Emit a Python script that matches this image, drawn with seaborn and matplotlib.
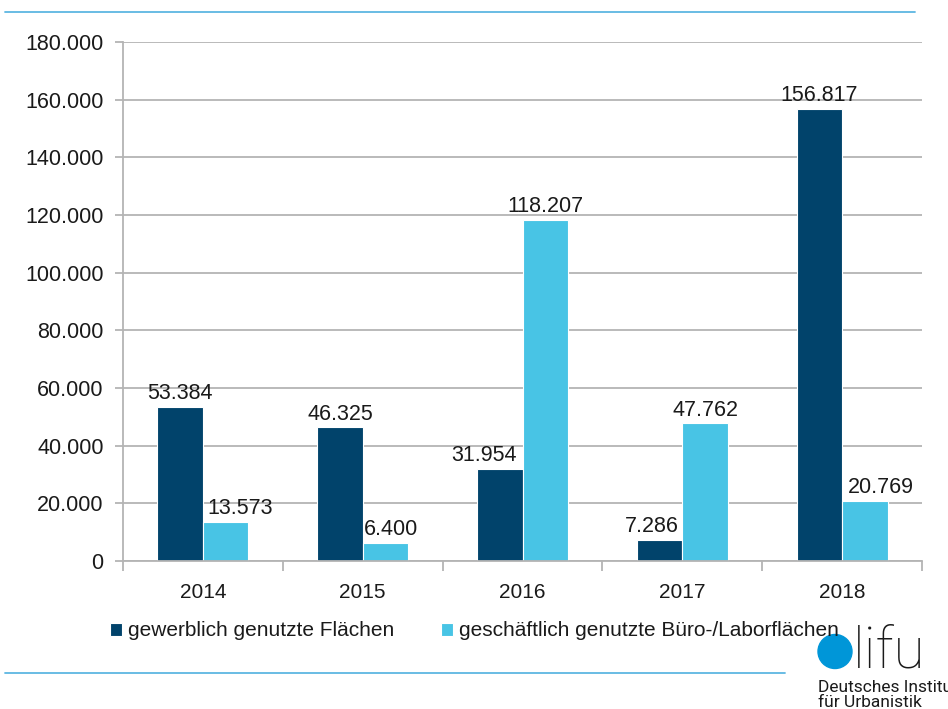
import pandas as pd
import matplotlib.pyplot as plt
import seaborn as sns
from matplotlib.ticker import FuncFormatter, MultipleLocator, FixedLocator
from matplotlib.lines import Line2D
from matplotlib.patches import Ellipse

# data
years = ["2014", "2015", "2016", "2017", "2018"]
gewerblich = [53384, 46325, 31954, 7286, 156817]
geschaeftlich = [13573, 6400, 118207, 47762, 20769]
series = ["gewerblich genutzte Flächen", "geschäftlich genutzte Büro-/Laborflächen"]

df = pd.DataFrame({
    "Jahr": years * 2,
    "Fläche": gewerblich + geschaeftlich,
    "Art": [series[0]] * len(years) + [series[1]] * len(years),
})

sns.set_style("white")
plt.rcParams["font.family"] = ["Liberation Sans", "DejaVu Sans"]

dark = "#01436B"
light = "#48C4E5"
grid_col = "#b4b4b4"
txt = "#1a1a1a"

def de_fmt(v):
    return f"{int(round(v)):,}".replace(",", ".")

fig = plt.figure(figsize=(9.48, 7.09), dpi=100)
ax = fig.add_axes([123 / 948, 1 - 561 / 709, 799 / 948, 519 / 709])

sns.barplot(data=df, x="Jahr", y="Fläche", hue="Art", palette=[dark, light],
            saturation=1, width=0.57, edgecolor="white", linewidth=0.8, ax=ax)

ax.set_xlim(-0.5, len(years) - 0.5)
ax.set_ylim(0, 180000)
ax.yaxis.set_major_locator(MultipleLocator(20000))
ax.yaxis.set_major_formatter(FuncFormatter(lambda v, p: de_fmt(v)))
ax.yaxis.grid(True, color=grid_col, lw=1.3)
ax.set_axisbelow(True)
ax.set_xlabel("")
ax.set_ylabel("")

for s in ["top", "right"]:
    ax.spines[s].set_visible(False)
for s in ["left", "bottom"]:
    ax.spines[s].set_color(grid_col)
    ax.spines[s].set_linewidth(1.3)

ax.tick_params(axis="y", direction="out", length=6, width=1.3, color=grid_col,
               labelsize=15.5, labelcolor=txt, pad=8, left=True)
ax.tick_params(axis="x", which="major", length=0, labelsize=15, labelcolor=txt, pad=16)
ax.xaxis.set_minor_locator(FixedLocator([i - 0.5 for i in range(len(years) + 1)]))
ax.tick_params(axis="x", which="minor", direction="out", length=7, width=1.3,
               color=grid_col, bottom=True)

# data labels, slightly nudged like the original (pixels)
label_dx = [[0, 0, -16, -8, 0], [14, 6, 0, 0, 16]]
for ci, cont in enumerate(ax.containers):
    for bi, bar in enumerate(cont):
        ax.annotate(de_fmt(bar.get_height()),
                    (bar.get_x() + bar.get_width() / 2, bar.get_height()),
                    xytext=(label_dx[ci][bi] * 0.72, 2), textcoords="offset points",
                    ha="center", va="bottom", fontsize=15.5, color=txt)

handles, labels = ax.get_legend_handles_labels()
ax.get_legend().remove()
fig.legend(handles, labels, loc="center left", bbox_to_anchor=(91 / 948, 1 - 631 / 709),
           ncol=2, frameon=False, fontsize=15, handlelength=0.6, handleheight=0.6,
           handletextpad=0.3, columnspacing=2.2, labelcolor=txt)

# decorative rules
fig.add_artist(Line2D([5 / 948, 915 / 948], [1 - 12 / 709] * 2, color="#5DB6E2", lw=1.3))
fig.add_artist(Line2D([5 / 948, 785 / 948], [1 - 673 / 709] * 2, color="#5DB6E2", lw=1.3))

# difu logo
fig.add_artist(Ellipse((835 / 948, 1 - 651.5 / 709), 34 / 948, 34 / 709,
                       color="#0096D8", transform=fig.transFigure))
fig.text(853 / 948, 1 - 668 / 709, "lifu", fontsize=41, fontweight="light",
         family=["Roboto", "DejaVu Sans"], color="#1a1a1a", va="baseline", ha="left")
fig.text(818 / 948, 1 - 692 / 709, "Deutsches Institut", fontsize=12.5,
         family=["Roboto", "DejaVu Sans"], color="#1a1a1a", va="baseline", ha="left")
fig.text(818 / 948, 1 - 707 / 709, "für Urbanistik", fontsize=12.5,
         family=["Roboto", "DejaVu Sans"], color="#1a1a1a", va="baseline", ha="left")

fig.savefig("out.png", dpi=100)
